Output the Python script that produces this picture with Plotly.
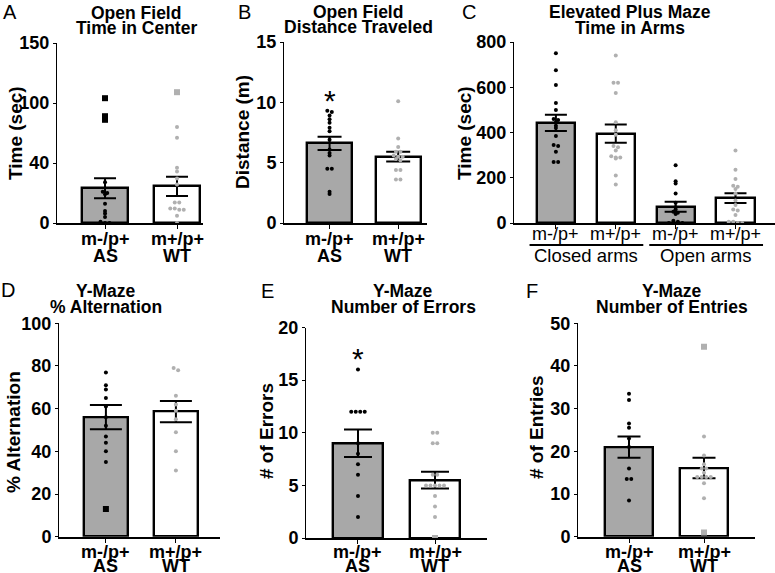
import plotly.graph_objects as go

W, H = 775, 573
FONT = "Liberation Sans, Arial, sans-serif"
AS_FILL, WT_FILL = "#a8a8a8", "#ffffff"
AS_PT, WT_PT = "#000000", "#b0b0b0"

# ---------------- data ----------------
groups = ["m-/p+", "m+/p+"]
genotypes = ["AS", "WT"]

# A: Open field, time in center (sec)
a_mean = [29.0, 30.5]
a_sem = [8.3, 8.0]
a_as = [34, 26, 25, 24, 16, 10, 8, 5, 1, 0, 0]
a_as_out = [104, 89, 86]
a_wt = [80, 71, 46, 43, 37, 32, 17, 17, 12, 12, 11, 11, 6, 0]
a_wt_out = [109]
a_yticks = [0, 50, 100, 150]
a_yticklabels = ["0", "40", "100", "150"]

# B: Open field, distance traveled (m)
b_mean = [6.6, 5.5]
b_sem = [0.55, 0.4]
b_as = [9.3, 9.2, 8.9, 8.6, 8.3, 7.9, 7.6, 6.9, 6.1, 5.8, 5.6, 4.5, 4.5, 2.6, 2.4]
b_wt = [10.1, 7.0, 6.3, 5.9, 5.9, 5.6, 5.5, 5.5, 5.3, 5.2, 4.4, 4.4, 3.6, 3.6]
b_yticks = [0, 5, 10, 15]
b_star = 10.4

# C: Elevated plus maze, time in arms (sec)
c_labels = ["m-/p+", "m+/p+", "m-/p+", "m+/p+"]
c_arms = ["Closed arms", "Open arms"]
c_mean = [443, 395, 72, 110]
c_sem = [36, 40, 22, 22]
c_as_closed = [750, 675, 610, 530, 500, 460, 455, 445, 430, 420, 385, 345, 340, 315, 270, 270]
c_wt_closed = [740, 620, 620, 575, 445, 410, 390, 340, 335, 320, 295, 290, 290, 285, 210, 170]
c_as_open = [255, 185, 175, 130, 90, 70, 60, 50, 45, 40, 10, 5, 0, 0, 0, 0]
c_wt_open = [320, 235, 195, 165, 160, 150, 130, 100, 80, 60, 55, 35, 5, 5, 0, 0]
c_yticks = [0, 200, 400, 600, 800]

# D: Y-maze, % alternation
d_mean = [56.0, 58.6]
d_sem = [5.7, 5.0]
d_as = [77, 71, 69, 65, 61, 56, 52, 47, 44, 40, 35]
d_as_out = [13]
d_wt = [79, 78, 66, 62, 59, 55, 49, 40, 31]
d_yticks = [0, 20, 40, 60, 80, 100]

# E: Y-maze, number of errors
e_mean = [9.0, 5.5]
e_sem = [1.3, 0.8]
e_as = [16, 12, 12, 12, 12, 9, 8, 7, 6, 4, 2]
e_wt = [10, 10, 9, 9, 6, 6, 5, 5, 5, 5, 5, 4, 3, 2]
e_wt_out = [0]
e_yticks = [0, 5, 10, 15, 20]
e_star = 17.3

# F: Y-maze, number of entries
f_mean = [21.0, 16.1]
f_sem = [2.5, 2.4]
f_as = [33.5, 32, 26.5, 25.5, 23, 21, 16, 13.5, 13.5, 8.5]
f_wt = [23.5, 19, 17, 16, 16, 15, 14, 14, 14, 14, 12.5, 9]
f_wt_out = [44.5, 1]
f_yticks = [0, 10, 20, 30, 40, 50]

# ---------------- layout config (pixels) ----------------
panels = [
    dict(letter="A", t1="Open Field", t2="Time in Center", ytitle="Time (sec)",
         xpx=(57, 203), ypx=(43, 223), xr=(-0.667, 1.361), ymax=150,
         yticks=a_yticks, yticklabels=a_yticklabels, means=a_mean, sems=a_sem,
         fills=[AS_FILL, WT_FILL], xlabels=groups, sub=genotypes, bw=0.64, cap=11,
         pts=[(0, a_as, AS_PT, "circle", 4), (0, a_as_out, AS_PT, "square", 6),
              (1, a_wt, WT_PT, "circle", 4), (1, a_wt_out, WT_PT, "square", 6)],
         letter_pos=(10, 12), title_pos=(136, 12.5, 28), ytitle_pos=(15, 133),
         lab_y=(239, 255.5)),
    dict(letter="B", t1="Open Field", t2="Distance Traveled", ytitle="Distance (m)",
         xpx=(284, 427), ypx=(42, 223), xr=(-0.664, 1.42), ymax=15,
         yticks=b_yticks, yticklabels=[str(v) for v in b_yticks], means=b_mean, sems=b_sem,
         fills=[AS_FILL, WT_FILL], xlabels=groups, sub=genotypes, bw=0.66, cap=12,
         pts=[(0, b_as, AS_PT, "circle", 4), (1, b_wt, WT_PT, "circle", 4)],
         letter_pos=(245, 12), title_pos=(358, 12, 27.5), ytitle_pos=(242, 132),
         lab_y=(239, 255.5), star=b_star),
    dict(letter="C", t1="Elevated Plus Maze", t2="Time in Arms", ytitle="Time (sec)",
         xpx=(514, 775), ypx=(42, 223), xr=(-0.70, 3.66), ymax=800,
         yticks=c_yticks, yticklabels=[str(v) for v in c_yticks], means=c_mean, sems=c_sem,
         fills=[AS_FILL, WT_FILL, AS_FILL, WT_FILL], xlabels=c_labels, sub=None, bw=0.635, cap=11,
         pts=[(0, c_as_closed, AS_PT, "circle", 4), (1, c_wt_closed, WT_PT, "circle", 4),
              (2, c_as_open, AS_PT, "circle", 4), (3, c_wt_open, WT_PT, "circle", 4)],
         letter_pos=(469, 12), title_pos=(630, 12, 28), ytitle_pos=(464, 133),
         lab_y=(234, 256)),
    dict(letter="D", t1="Y-Maze", t2="% Alternation", ytitle="% Alternation",
         xpx=(59, 220), ypx=(323.3, 536.7), xr=(-0.67, 1.63), ymax=100,
         yticks=d_yticks, yticklabels=[str(v) for v in d_yticks], means=d_mean, sems=d_sem,
         fills=[AS_FILL, WT_FILL], xlabels=groups, sub=genotypes, bw=0.64, cap=16,
         pts=[(0, d_as, AS_PT, "circle", 4), (0, d_as_out, AS_PT, "square", 6),
              (1, d_wt, WT_PT, "circle", 4)],
         letter_pos=(8, 290), title_pos=(106, 291, 306.5), ytitle_pos=(13, 432),
         lab_y=(552, 566)),
    dict(letter="E", t1="Y-Maze", t2="Number of Errors", ytitle="# of Errors",
         xpx=(306, 487), ypx=(327.5, 538), xr=(-0.675, 1.675), ymax=20,
         yticks=e_yticks, yticklabels=[str(v) for v in e_yticks], means=e_mean, sems=e_sem,
         fills=[AS_FILL, WT_FILL], xlabels=groups, sub=genotypes, bw=0.65, cap=14,
         pts=[(0, e_as, AS_PT, "circle", 4), (1, e_wt, WT_PT, "circle", 4),
              (1, e_wt_out, WT_PT, "square", 6)],
         letter_pos=(267, 291), title_pos=(403, 291, 306.5), ytitle_pos=(266, 431),
         lab_y=(552, 566), star=e_star),
    dict(letter="F", t1="Y-Maze", t2="Number of Entries", ytitle="# of Entries",
         xpx=(578, 755), ypx=(323.3, 536.7), xr=(-0.68, 1.68), ymax=50,
         yticks=f_yticks, yticklabels=[str(v) for v in f_yticks], means=f_mean, sems=f_sem,
         fills=[AS_FILL, WT_FILL], xlabels=groups, sub=genotypes, bw=0.64, cap=11.5,
         pts=[(0, f_as, AS_PT, "circle", 4), (1, f_wt, WT_PT, "circle", 4),
              (1, f_wt_out, WT_PT, "square", 6)],
         letter_pos=(532, 291), title_pos=(672, 291, 306.5), ytitle_pos=(536, 428),
         lab_y=(552, 566)),
]


def spread(vals, center, tol, step):
    """Place points with near-equal values side by side (deterministic beeswarm)."""
    vs = sorted(vals, reverse=True)
    groups_ = []
    for v in vs:
        if groups_ and abs(groups_[-1][0] - v) <= tol:
            groups_[-1].append(v)
        else:
            groups_.append([v])
    xs, ys = [], []
    for g in groups_:
        n = len(g)
        for i, v in enumerate(g):
            xs.append(center + (i - (n - 1) / 2) * step)
            ys.append(v)
    return xs, ys


def px_x(p):
    return p / W


def px_y(p):
    return 1 - p / H


def txt(xref, x, yref, y, text, size=17.5, weight="bold", angle=0):
    return dict(xref=xref, x=x, yref=yref, y=y, text=text, textangle=angle,
                showarrow=False, xanchor="center", yanchor="middle",
                font=dict(family=FONT, size=size, color="black", weight=weight))


fig = go.Figure()
annotations = []
shapes = []
layout = {}

for i, p in enumerate(panels, start=1):
    sfx = "" if i == 1 else str(i)
    xa, ya = "x" + sfx, "y" + sfx
    n = len(p["means"])
    xs = list(range(n))
    xpx0, xpx1 = p["xpx"]
    ypx0, ypx1 = p["ypx"]
    ppu_x = (xpx1 - xpx0) / (p["xr"][1] - p["xr"][0])
    ppu_y = (ypx1 - ypx0) / p["ymax"]

    fig.add_trace(go.Bar(
        x=xs, y=p["means"], width=p["bw"], xaxis=xa, yaxis=ya,
        marker=dict(color=p["fills"], line=dict(color="black", width=2.4)),
        error_y=dict(type="data", array=p["sems"], color="black", thickness=2, width=p["cap"]),
        showlegend=False, hoverinfo="skip"))

    for (k, vals, col, sym, size) in p["pts"]:
        sx, sy = spread(vals, k, 2.2 / ppu_y, 4.5 / ppu_x)
        fig.add_trace(go.Scatter(
            x=sx, y=sy, mode="markers", xaxis=xa, yaxis=ya,
            marker=dict(color=col, size=size, symbol=sym, line=dict(width=0)),
            showlegend=False, hoverinfo="skip"))

    if "star" in p:
        a = txt(xa, 0, ya, p["star"], "*", size=30, weight="normal")
        a["yshift"] = -3
        annotations.append(a)

    layout["xaxis" + sfx] = dict(
        domain=[px_x(xpx0), min(1.0, px_x(xpx1))], range=list(p["xr"]), anchor=ya,
        tickmode="array", tickvals=xs, showticklabels=False, automargin=False,
        showline=True, linecolor="black", linewidth=2, ticks="outside", ticklen=4,
        tickcolor="black", tickwidth=1, showgrid=False, zeroline=False, fixedrange=True)
    layout["yaxis" + sfx] = dict(
        domain=[px_y(ypx1), px_y(ypx0)], range=[0, p["ymax"]], anchor=xa, automargin=False,
        tickmode="array", tickvals=p["yticks"], ticktext=p["yticklabels"],
        showline=True, linecolor="black", linewidth=1, ticks="outside", ticklen=3,
        tickcolor="black", tickwidth=1, showgrid=False, zeroline=False, fixedrange=True,
        tickfont=dict(family=FONT, size=18, color="black", weight="bold"))

    lx, ly = p["letter_pos"]
    annotations.append(txt("paper", px_x(lx), "paper", px_y(ly), p["letter"], size=20, weight="normal"))
    tx, ty1, ty2 = p["title_pos"]
    annotations.append(txt("paper", px_x(tx), "paper", px_y(ty1), p["t1"]))
    annotations.append(txt("paper", px_x(tx), "paper", px_y(ty2), p["t2"]))
    yx, yy = p["ytitle_pos"]
    annotations.append(txt("paper", px_x(yx), "paper", px_y(yy), p["ytitle"], size=19, angle=-90))

    l1, l2 = p["lab_y"]
    if p["sub"]:
        for k in xs:
            annotations.append(txt(xa, k, "paper", px_y(l1), p["xlabels"][k], size=18))
            annotations.append(txt(xa, k, "paper", px_y(l2), p["sub"][k], size=18))
    else:
        for k in xs:
            annotations.append(txt(xa, k, "paper", px_y(l1), p["xlabels"][k], size=18, weight="normal"))
        for j, arm in enumerate(c_arms):
            c0 = 2 * j
            shapes.append(dict(type="line", xref=xa, yref="paper",
                               x0=c0 - 0.44, x1=c0 + 1.46, y0=px_y(245), y1=px_y(245),
                               line=dict(color="black", width=2)))
            annotations.append(txt(xa, c0 + 0.5, "paper", px_y(l2), arm, size=18.5, weight="normal"))

fig.update_layout(
    width=W, height=H, margin=dict(l=0, r=0, t=0, b=0, autoexpand=False),
    paper_bgcolor="white", plot_bgcolor="rgba(0,0,0,0)",
    annotations=annotations, shapes=shapes, bargap=0, **layout)

fig.write_html("out.html", config={"displayModeBar": False},
               post_script="document.body.style.margin='0';document.body.style.overflow='hidden';")
